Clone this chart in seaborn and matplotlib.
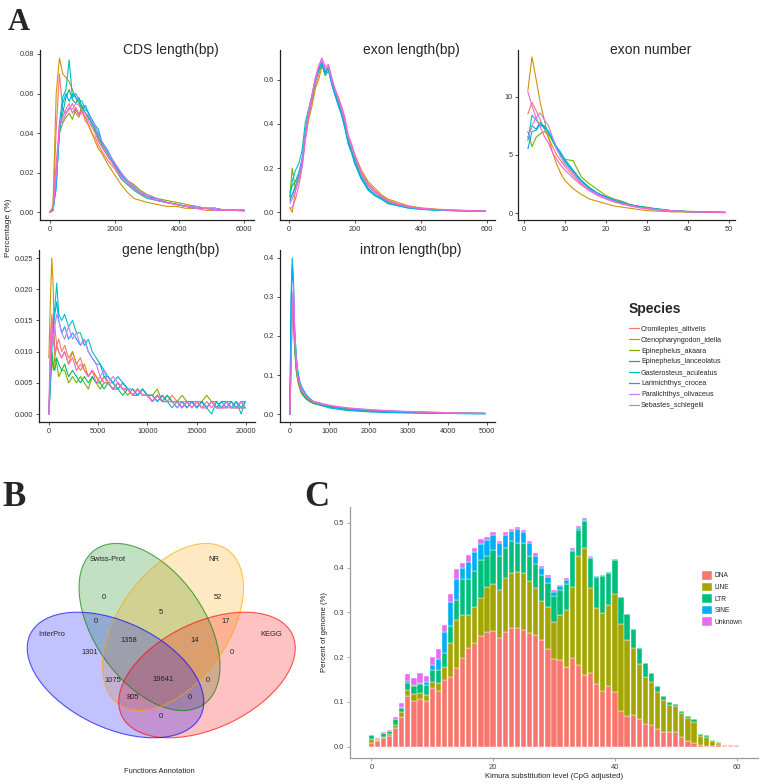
import matplotlib
matplotlib.use("Agg")
import numpy as np
import pandas as pd
import matplotlib.pyplot as plt
import seaborn as sns
from matplotlib.patches import Ellipse, Patch
from matplotlib.lines import Line2D

# ---------------- data ----------------
species = ["Cromileptes_altivelis", "Ctenopharyngodon_idella", "Epinephelus_akaara",
           "Epinephelus_lanceolatus", "Gasterosteus_aculeatus", "Larimichthys_crocea",
           "Paralichthys_olivaceus", "Sebastes_schlegelii"]
species_colors = ["#F8766D", "#CD9600", "#7CAE00", "#00BE67", "#00BFC4", "#00A9FF", "#C77CFF", "#FF61CC"]

cds_x = [0, 100, 200, 300, 400, 500, 600, 700, 800, 900, 1000, 1100, 1200, 1300, 1400, 1500, 1600,
         1800, 2000, 2200, 2400, 2600, 2800, 3000, 3300, 3600, 3900, 4200, 4500, 4800, 5100, 5400, 5700, 6000]
cds_pct = {
    "Cromileptes_altivelis":   [0, 0.002, 0.042, 0.070, 0.052, 0.050, 0.052, 0.055, 0.050, 0.048, 0.052, 0.046, 0.044, 0.040, 0.038, 0.034, 0.031, 0.026, 0.022, 0.017, 0.014, 0.012, 0.009, 0.008, 0.006, 0.005, 0.004, 0.003, 0.002, 0.002, 0.002, 0.001, 0.001, 0.001],
    "Ctenopharyngodon_idella": [0, 0.003, 0.060, 0.078, 0.070, 0.068, 0.066, 0.062, 0.058, 0.055, 0.050, 0.048, 0.044, 0.040, 0.036, 0.032, 0.030, 0.024, 0.019, 0.014, 0.010, 0.007, 0.006, 0.005, 0.004, 0.003, 0.003, 0.002, 0.002, 0.001, 0.001, 0.001, 0.001, 0.0005],
    "Epinephelus_akaara":      [0, 0.001, 0.020, 0.040, 0.045, 0.048, 0.050, 0.047, 0.052, 0.049, 0.054, 0.050, 0.047, 0.046, 0.042, 0.037, 0.034, 0.028, 0.024, 0.019, 0.016, 0.014, 0.011, 0.009, 0.007, 0.006, 0.005, 0.004, 0.003, 0.002, 0.002, 0.001, 0.001, 0.001],
    "Epinephelus_lanceolatus": [0, 0.001, 0.015, 0.042, 0.050, 0.058, 0.062, 0.057, 0.055, 0.058, 0.053, 0.050, 0.048, 0.045, 0.041, 0.038, 0.035, 0.030, 0.025, 0.020, 0.016, 0.013, 0.010, 0.008, 0.007, 0.005, 0.004, 0.003, 0.003, 0.002, 0.002, 0.001, 0.001, 0.001],
    "Gasterosteus_aculeatus":  [0, 0.001, 0.012, 0.045, 0.058, 0.062, 0.077, 0.058, 0.060, 0.057, 0.056, 0.052, 0.050, 0.044, 0.043, 0.040, 0.036, 0.029, 0.024, 0.017, 0.014, 0.011, 0.009, 0.007, 0.006, 0.005, 0.004, 0.003, 0.002, 0.002, 0.001, 0.001, 0.001, 0.001],
    "Larimichthys_crocea":     [0, 0.001, 0.014, 0.040, 0.055, 0.060, 0.056, 0.060, 0.058, 0.056, 0.052, 0.054, 0.050, 0.047, 0.044, 0.042, 0.036, 0.031, 0.024, 0.019, 0.015, 0.012, 0.010, 0.008, 0.006, 0.005, 0.004, 0.003, 0.002, 0.002, 0.002, 0.001, 0.001, 0.001],
    "Paralichthys_olivaceus":  [0, 0.001, 0.018, 0.044, 0.046, 0.050, 0.053, 0.052, 0.055, 0.054, 0.052, 0.050, 0.049, 0.046, 0.043, 0.039, 0.036, 0.030, 0.025, 0.020, 0.016, 0.013, 0.010, 0.009, 0.007, 0.005, 0.004, 0.003, 0.003, 0.002, 0.002, 0.001, 0.001, 0.001],
    "Sebastes_schlegelii":     [0, 0.001, 0.025, 0.044, 0.048, 0.052, 0.055, 0.050, 0.053, 0.050, 0.051, 0.048, 0.046, 0.043, 0.040, 0.036, 0.033, 0.028, 0.023, 0.018, 0.015, 0.012, 0.010, 0.008, 0.006, 0.005, 0.004, 0.003, 0.002, 0.002, 0.001, 0.001, 0.001, 0.001],
}

exon_len_x = [3, 10, 20, 30, 40, 50, 60, 70, 80, 90, 100, 110, 120, 130, 140, 150, 160, 170, 180, 190, 200,
              220, 240, 260, 280, 300, 330, 360, 400, 450, 500, 550, 595]
exon_len_pct = {
    "Cromileptes_altivelis":   [0.06, 0.08, 0.11, 0.15, 0.22, 0.34, 0.44, 0.50, 0.57, 0.62, 0.67, 0.65, 0.66, 0.59, 0.55, 0.51, 0.46, 0.42, 0.33, 0.30, 0.25, 0.18, 0.13, 0.10, 0.075, 0.055, 0.038, 0.027, 0.018, 0.012, 0.009, 0.007, 0.006],
    "Ctenopharyngodon_idella": [0.02, 0.00, 0.10, 0.15, 0.21, 0.33, 0.42, 0.48, 0.56, 0.60, 0.66, 0.64, 0.65, 0.60, 0.55, 0.52, 0.47, 0.41, 0.34, 0.30, 0.26, 0.19, 0.14, 0.11, 0.08, 0.06, 0.045, 0.03, 0.02, 0.014, 0.01, 0.008, 0.006],
    "Epinephelus_akaara":      [0.07, 0.20, 0.10, 0.15, 0.23, 0.35, 0.44, 0.52, 0.60, 0.64, 0.67, 0.62, 0.66, 0.59, 0.54, 0.50, 0.45, 0.40, 0.32, 0.28, 0.24, 0.17, 0.12, 0.09, 0.07, 0.05, 0.035, 0.025, 0.016, 0.011, 0.008, 0.007, 0.006],
    "Epinephelus_lanceolatus": [0.09, 0.12, 0.14, 0.18, 0.24, 0.37, 0.46, 0.53, 0.60, 0.65, 0.68, 0.63, 0.66, 0.59, 0.54, 0.49, 0.45, 0.39, 0.32, 0.28, 0.23, 0.16, 0.11, 0.08, 0.065, 0.045, 0.032, 0.022, 0.015, 0.01, 0.008, 0.006, 0.005],
    "Gasterosteus_aculeatus":  [0.07, 0.14, 0.19, 0.22, 0.28, 0.41, 0.47, 0.53, 0.60, 0.64, 0.67, 0.62, 0.64, 0.58, 0.53, 0.48, 0.44, 0.38, 0.31, 0.27, 0.22, 0.15, 0.10, 0.075, 0.06, 0.04, 0.03, 0.02, 0.013, 0.009, 0.007, 0.006, 0.005],
    "Larimichthys_crocea":     [0.05, 0.08, 0.12, 0.17, 0.24, 0.36, 0.45, 0.52, 0.59, 0.65, 0.68, 0.64, 0.65, 0.58, 0.53, 0.49, 0.44, 0.38, 0.31, 0.27, 0.22, 0.15, 0.105, 0.08, 0.06, 0.04, 0.03, 0.02, 0.014, 0.01, 0.007, 0.006, 0.005],
    "Paralichthys_olivaceus":  [0.04, 0.06, 0.10, 0.16, 0.23, 0.36, 0.46, 0.53, 0.61, 0.66, 0.69, 0.65, 0.66, 0.60, 0.55, 0.51, 0.46, 0.41, 0.34, 0.30, 0.25, 0.17, 0.12, 0.09, 0.07, 0.05, 0.035, 0.025, 0.017, 0.012, 0.009, 0.007, 0.006],
    "Sebastes_schlegelii":     [0.02, 0.02, 0.06, 0.12, 0.20, 0.33, 0.44, 0.52, 0.60, 0.66, 0.70, 0.66, 0.67, 0.61, 0.56, 0.52, 0.48, 0.43, 0.35, 0.31, 0.26, 0.18, 0.13, 0.095, 0.072, 0.052, 0.037, 0.026, 0.018, 0.012, 0.009, 0.007, 0.006],
}

exon_num_x = [1, 2, 3, 4, 5, 6, 7, 8, 9, 10, 12, 14, 16, 18, 20, 22, 24, 26, 28, 30, 33, 36, 40, 45, 49]
exon_num_pct = {
    "Cromileptes_altivelis":   [8.5, 9.5, 8.8, 8.0, 7.2, 6.5, 5.7, 5.0, 4.5, 4.0, 3.2, 2.5, 2.0, 1.6, 1.3, 1.0, 0.8, 0.6, 0.5, 0.4, 0.25, 0.2, 0.12, 0.08, 0.05],
    "Ctenopharyngodon_idella": [10.5, 13.4, 11.5, 9.5, 8.0, 6.5, 5.2, 4.2, 3.4, 2.8, 2.1, 1.6, 1.2, 1.0, 0.8, 0.6, 0.5, 0.4, 0.3, 0.2, 0.15, 0.1, 0.08, 0.05, 0.03],
    "Epinephelus_akaara":      [7.0, 5.7, 6.5, 6.8, 7.0, 6.8, 6.2, 5.6, 5.0, 4.6, 4.5, 3.1, 2.5, 2.0, 1.5, 1.2, 1.0, 0.7, 0.6, 0.5, 0.3, 0.2, 0.15, 0.1, 0.05],
    "Epinephelus_lanceolatus": [6.5, 7.5, 7.2, 7.8, 7.4, 7.0, 6.2, 5.5, 5.0, 4.5, 3.6, 2.8, 2.2, 1.7, 1.4, 1.1, 0.9, 0.7, 0.55, 0.45, 0.3, 0.2, 0.12, 0.08, 0.05],
    "Gasterosteus_aculeatus":  [6.2, 8.4, 8.0, 7.5, 7.5, 7.0, 6.3, 5.6, 5.1, 4.4, 3.5, 2.7, 2.1, 1.6, 1.3, 1.0, 0.9, 0.7, 0.55, 0.45, 0.35, 0.2, 0.12, 0.08, 0.05],
    "Larimichthys_crocea":     [5.5, 7.0, 7.1, 7.6, 7.3, 7.0, 6.4, 5.7, 5.2, 4.6, 3.7, 2.8, 2.1, 1.7, 1.35, 1.1, 0.9, 0.7, 0.55, 0.4, 0.3, 0.2, 0.12, 0.08, 0.05],
    "Paralichthys_olivaceus":  [6.5, 7.5, 8.2, 8.6, 8.0, 7.5, 6.5, 5.5, 4.8, 4.2, 3.4, 2.6, 2.0, 1.6, 1.3, 1.0, 0.8, 0.65, 0.5, 0.4, 0.3, 0.2, 0.12, 0.08, 0.05],
    "Sebastes_schlegelii":     [10.4, 9.2, 8.2, 7.4, 6.6, 6.0, 5.2, 4.6, 4.1, 3.7, 3.0, 2.4, 1.9, 1.5, 1.2, 0.95, 0.75, 0.6, 0.45, 0.35, 0.25, 0.18, 0.1, 0.07, 0.04],
}

gene_len_x = [0, 150, 300, 450, 600, 800, 1000, 1300, 1600, 2000, 2400, 2800, 3200, 3600, 4000, 4400, 4800,
              5200, 5600, 6000, 6500, 7000, 7500, 8000, 8500, 9000, 9500, 10000, 10500, 11000, 11500, 12000,
              12500, 13000, 13500, 14000, 14500, 15000, 15500, 16000, 16500, 17000, 17500, 18000, 18500,
              19000, 19500, 19900]
gene_len_pct = {
    "Cromileptes_altivelis":   [0.000, 0.012, 0.016, 0.013, 0.014, 0.011, 0.012, 0.010, 0.011, 0.009, 0.010, 0.008, 0.009, 0.007, 0.006, 0.007, 0.006, 0.005, 0.006, 0.005, 0.004, 0.005, 0.004, 0.004, 0.003, 0.004, 0.003, 0.003, 0.002, 0.003, 0.002, 0.002, 0.003, 0.002, 0.002, 0.001, 0.002, 0.002, 0.001, 0.002, 0.001, 0.002, 0.001, 0.001, 0.002, 0.001, 0.001, 0.001],
    "Ctenopharyngodon_idella": [0.009, 0.018, 0.025, 0.020, 0.009, 0.011, 0.010, 0.009, 0.010, 0.008, 0.010, 0.008, 0.007, 0.008, 0.006, 0.007, 0.006, 0.005, 0.006, 0.005, 0.005, 0.004, 0.005, 0.004, 0.003, 0.004, 0.003, 0.003, 0.003, 0.002, 0.003, 0.002, 0.002, 0.002, 0.001, 0.002, 0.002, 0.001, 0.002, 0.001, 0.002, 0.001, 0.001, 0.002, 0.001, 0.001, 0.001, 0.001],
    "Epinephelus_akaara":      [0.000, 0.005, 0.009, 0.007, 0.009, 0.008, 0.006, 0.007, 0.007, 0.005, 0.006, 0.005, 0.006, 0.005, 0.004, 0.006, 0.005, 0.004, 0.005, 0.005, 0.004, 0.005, 0.004, 0.003, 0.004, 0.003, 0.004, 0.003, 0.003, 0.004, 0.002, 0.003, 0.002, 0.002, 0.003, 0.002, 0.001, 0.002, 0.002, 0.003, 0.002, 0.002, 0.001, 0.002, 0.002, 0.001, 0.002, 0.002],
    "Epinephelus_lanceolatus": [0.000, 0.006, 0.010, 0.008, 0.007, 0.009, 0.008, 0.007, 0.008, 0.006, 0.007, 0.006, 0.005, 0.006, 0.005, 0.006, 0.005, 0.005, 0.004, 0.005, 0.004, 0.004, 0.003, 0.004, 0.003, 0.003, 0.004, 0.003, 0.002, 0.003, 0.002, 0.003, 0.002, 0.002, 0.001, 0.002, 0.002, 0.001, 0.002, 0.001, 0.002, 0.001, 0.002, 0.002, 0.001, 0.002, 0.001, 0.002],
    "Gasterosteus_aculeatus":  [0.000, 0.004, 0.010, 0.015, 0.017, 0.021, 0.016, 0.015, 0.016, 0.014, 0.015, 0.013, 0.013, 0.011, 0.012, 0.010, 0.009, 0.008, 0.006, 0.006, 0.005, 0.004, 0.005, 0.004, 0.003, 0.004, 0.003, 0.003, 0.002, 0.003, 0.002, 0.002, 0.001, 0.002, 0.001, 0.002, 0.002, 0.001, 0.002, 0.001, 0.000, 0.002, 0.001, 0.002, 0.001, 0.002, 0.000, 0.002],
    "Larimichthys_crocea":     [0.000, 0.006, 0.012, 0.014, 0.016, 0.018, 0.015, 0.013, 0.014, 0.012, 0.013, 0.012, 0.011, 0.012, 0.010, 0.009, 0.008, 0.008, 0.007, 0.006, 0.005, 0.006, 0.005, 0.004, 0.004, 0.003, 0.004, 0.003, 0.003, 0.002, 0.003, 0.002, 0.002, 0.001, 0.002, 0.001, 0.002, 0.001, 0.002, 0.001, 0.002, 0.001, 0.002, 0.001, 0.002, 0.001, 0.002, 0.001],
    "Paralichthys_olivaceus":  [0.000, 0.008, 0.013, 0.011, 0.014, 0.016, 0.015, 0.013, 0.012, 0.014, 0.012, 0.013, 0.011, 0.012, 0.010, 0.009, 0.008, 0.006, 0.007, 0.005, 0.006, 0.005, 0.004, 0.004, 0.003, 0.004, 0.003, 0.003, 0.002, 0.003, 0.002, 0.002, 0.002, 0.001, 0.002, 0.002, 0.001, 0.002, 0.001, 0.001, 0.002, 0.001, 0.001, 0.002, 0.001, 0.001, 0.002, 0.001],
    "Sebastes_schlegelii":     [0.000, 0.010, 0.015, 0.012, 0.010, 0.011, 0.010, 0.009, 0.010, 0.008, 0.009, 0.007, 0.008, 0.007, 0.006, 0.007, 0.005, 0.006, 0.005, 0.005, 0.004, 0.005, 0.004, 0.004, 0.003, 0.004, 0.003, 0.003, 0.002, 0.003, 0.002, 0.002, 0.002, 0.002, 0.001, 0.002, 0.001, 0.002, 0.001, 0.001, 0.002, 0.001, 0.001, 0.001, 0.001, 0.001, 0.001, 0.001],
}

intron_len_x = [0, 30, 60, 90, 120, 160, 200, 250, 300, 400, 500, 600, 800, 1000, 1250, 1500, 2000, 2500,
                3000, 3500, 4000, 4500, 4950]
intron_len_pct = {
    "Cromileptes_altivelis":   [0, 0.20, 0.30, 0.26, 0.17, 0.12, 0.09, 0.070, 0.058, 0.043, 0.035, 0.030, 0.024, 0.020, 0.016, 0.013, 0.009, 0.007, 0.005, 0.004, 0.003, 0.002, 0.002],
    "Ctenopharyngodon_idella": [0, 0.18, 0.31, 0.27, 0.18, 0.12, 0.09, 0.072, 0.060, 0.045, 0.036, 0.030, 0.025, 0.021, 0.017, 0.014, 0.010, 0.007, 0.005, 0.004, 0.003, 0.002, 0.002],
    "Epinephelus_akaara":      [0, 0.15, 0.26, 0.28, 0.17, 0.11, 0.085, 0.065, 0.052, 0.040, 0.032, 0.027, 0.022, 0.019, 0.016, 0.014, 0.011, 0.008, 0.006, 0.005, 0.004, 0.003, 0.002],
    "Epinephelus_lanceolatus": [0, 0.17, 0.29, 0.27, 0.18, 0.12, 0.09, 0.068, 0.055, 0.041, 0.033, 0.028, 0.023, 0.020, 0.016, 0.013, 0.010, 0.008, 0.006, 0.004, 0.003, 0.002, 0.002],
    "Gasterosteus_aculeatus":  [0, 0.30, 0.40, 0.35, 0.22, 0.15, 0.11, 0.085, 0.070, 0.052, 0.040, 0.032, 0.022, 0.016, 0.012, 0.009, 0.006, 0.004, 0.003, 0.002, 0.002, 0.001, 0.001],
    "Larimichthys_crocea":     [0, 0.28, 0.38, 0.33, 0.22, 0.15, 0.11, 0.082, 0.068, 0.050, 0.040, 0.033, 0.024, 0.018, 0.014, 0.011, 0.007, 0.005, 0.004, 0.003, 0.002, 0.002, 0.001],
    "Paralichthys_olivaceus":  [0, 0.10, 0.28, 0.33, 0.22, 0.14, 0.10, 0.080, 0.065, 0.048, 0.038, 0.033, 0.028, 0.023, 0.019, 0.016, 0.012, 0.009, 0.007, 0.005, 0.004, 0.003, 0.002],
    "Sebastes_schlegelii":     [0, 0.12, 0.27, 0.30, 0.20, 0.13, 0.095, 0.075, 0.060, 0.046, 0.037, 0.031, 0.026, 0.022, 0.018, 0.015, 0.011, 0.008, 0.006, 0.005, 0.003, 0.002, 0.002],
}

# Venn (functional annotation)
venn_sets = ["InterPro", "Swiss-Prot", "NR", "KEGG"]
venn_colors = ["#0000FF", "#008000", "#FFA500", "#FF0000"]
venn_counts = {  # region -> count
    "S": 0, "N": 52, "SN": 5, "IS": 0, "NK": 17, "ISN": 1358, "SNK": 14, "I": 1301,
    "K": 0, "IN": 1075, "ISNK": 19641, "SK": 0, "INK": 805, "ISK": 0, "IK": 0,
}

# Repeat landscape (Kimura divergence)
kimura = list(range(0, 61))
rep_types = ["DNA", "LINE", "LTR", "SINE", "Unknown"]
rep_colors = ["#F8766D", "#A3A500", "#00BF7D", "#00B0F6", "#E76BF3"]
dna_pct = [0.008, 0.012, 0.0185, 0.024, 0.041, 0.067, 0.113, 0.103, 0.106, 0.102, 0.130, 0.124, 0.149, 0.155,
           0.175, 0.199, 0.221, 0.232, 0.247, 0.256, 0.258, 0.243, 0.256, 0.265, 0.265, 0.261, 0.253, 0.249,
           0.239, 0.218, 0.196, 0.193, 0.179, 0.199, 0.182, 0.159, 0.164, 0.139, 0.125, 0.136, 0.123, 0.080,
           0.069, 0.070, 0.061, 0.050, 0.049, 0.040, 0.032, 0.032, 0.032, 0.021, 0.012, 0.007, 0.004, 0.002,
           0.002, 0.003, 0.001, 0.001, 0.001]
line_pct = [0.010, 0.002, 0.0037, 0.0044, 0.0074, 0.0096, 0.0126, 0.014, 0.014, 0.0133, 0.0148, 0.0185, 0.028,
            0.077, 0.107, 0.096, 0.072, 0.080, 0.086, 0.100, 0.106, 0.107, 0.120, 0.123, 0.126, 0.128, 0.116,
            0.105, 0.087, 0.094, 0.083, 0.101, 0.127, 0.157, 0.244, 0.285, 0.190, 0.170, 0.174, 0.180, 0.219,
            0.193, 0.170, 0.151, 0.124, 0.106, 0.096, 0.083, 0.073, 0.061, 0.058, 0.053, 0.053, 0.048, 0.019,
            0.019, 0.011, 0.005, 0.002, 0.002, 0.002]
ltr_pct = [0.008, 0.003, 0.0074, 0.0074, 0.0133, 0.0096, 0.017, 0.0185, 0.0207, 0.0215, 0.026, 0.028, 0.032,
           0.037, 0.046, 0.080, 0.081, 0.081, 0.083, 0.070, 0.076, 0.075, 0.067, 0.072, 0.065, 0.067, 0.058,
           0.053, 0.058, 0.053, 0.058, 0.056, 0.058, 0.081, 0.058, 0.061, 0.067, 0.070, 0.082, 0.073, 0.076,
           0.061, 0.058, 0.041, 0.035, 0.030, 0.019, 0.013, 0.007, 0.007, 0.006, 0.006, 0.004, 0.007, 0.005,
           0.004, 0.002, 0.002, 0.0, 0.0, 0.0]
sine_pct = [0.0, 0.0, 0.0, 0.0, 0.0, 0.0015, 0.0037, 0.0015, 0.0015, 0.0067, 0.011, 0.0244, 0.0467, 0.054,
            0.047, 0.025, 0.039, 0.041, 0.037, 0.036, 0.033, 0.030, 0.030, 0.021, 0.031, 0.024, 0.028, 0.020,
            0.015, 0.015, 0.009, 0.008, 0.009, 0.002, 0.004, 0.002, 0.002, 0.002, 0.002, 0.001, 0.001, 0.0,
            0.0, 0.0, 0.0, 0.0, 0.0, 0.0, 0.0, 0.0, 0.0, 0.0, 0.0, 0.0, 0.0, 0.0, 0.0, 0.0, 0.0, 0.0, 0.0]
unknown_pct = [0.0, 0.002, 0.002, 0.002, 0.0037, 0.0104, 0.017, 0.017, 0.0215, 0.0148, 0.0185, 0.0237, 0.017,
               0.017, 0.021, 0.011, 0.015, 0.010, 0.011, 0.007, 0.007, 0.005, 0.007, 0.005, 0.004, 0.005, 0.004,
               0.005, 0.004, 0.004, 0.004, 0.004, 0.004, 0.004, 0.004, 0.003, 0.002, 0.0, 0.0, 0.0, 0.0, 0.0,
               0.0, 0.0, 0.0, 0.0, 0.0, 0.0, 0.0, 0.0, 0.0, 0.0, 0.0, 0.0, 0.0, 0.0, 0.0, 0.0, 0.0, 0.0, 0.0]

# ---------------- style ----------------
sns.set_style("white")
plt.rcParams["font.family"] = ["Liberation Sans", "DejaVu Sans"]

W, H = 760, 784
fig = plt.figure(figsize=(W / 100, H / 100), dpi=100)


def px_axes(left, top, right, bottom):
    return fig.add_axes([left / W, 1 - bottom / H, (right - left) / W, (bottom - top) / H])


def long_df(x, d):
    rows = [(sp, xi, yi) for sp in species for xi, yi in zip(x, d[sp])]
    return pd.DataFrame(rows, columns=["Species", "x", "y"])


def line_panel(box, x, d, title, xlim, ylim, xticks, yticks, yfmt):
    ax = px_axes(*box)
    sns.lineplot(data=long_df(x, d), x="x", y="y", hue="Species", hue_order=species,
                 palette=species_colors, estimator=None, errorbar=None, linewidth=0.8,
                 legend=False, ax=ax)
    ax.set_xlim(xlim)
    ax.set_ylim(ylim)
    ax.set_xticks(xticks)
    ax.set_yticks(yticks)
    ax.set_yticklabels([yfmt.format(v) for v in yticks])
    ax.set_xlabel("")
    ax.set_ylabel("")
    for s in ["top", "right"]:
        ax.spines[s].set_visible(False)
    for s in ["left", "bottom"]:
        ax.spines[s].set_color("#222222")
        ax.spines[s].set_linewidth(0.9)
    ax.tick_params(length=2.5, width=0.6, labelsize=5.3, colors="#333333", pad=1.5,
                   bottom=True, left=True)
    ax.text(0.61, 1.0, title, transform=ax.transAxes, ha="center", va="center", fontsize=10)
    return ax


line_panel((40, 50, 254, 220), cds_x, cds_pct, "CDS length(bp)", (-300, 6300), (-0.0039, 0.082),
           [0, 2000, 4000, 6000], [0, 0.02, 0.04, 0.06, 0.08], "{:.2f}")
line_panel((280, 50, 495, 220), exon_len_x, exon_len_pct, "exon length(bp)", (-27, 625), (-0.035, 0.735),
           [0, 200, 400, 600], [0, 0.2, 0.4, 0.6], "{:.1f}")
line_panel((518, 50, 735, 220), exon_num_x, exon_num_pct, "exon number", (-1.4, 51.4), (-0.6, 14.0),
           [0, 10, 20, 30, 40, 50], [0, 5, 10], "{:.0f}")
line_panel((39, 250, 255, 422), gene_len_x, gene_len_pct, "gene length(bp)", (-1000, 20900), (-0.00128, 0.0263),
           [0, 5000, 10000, 15000, 20000], [0, 0.005, 0.010, 0.015, 0.020, 0.025], "{:.3f}")
line_panel((280, 250, 495, 422), intron_len_x, intron_len_pct, "intron length(bp)", (-250, 5200), (-0.02, 0.42),
           [0, 1000, 2000, 3000, 4000, 5000], [0, 0.1, 0.2, 0.3, 0.4], "{:.1f}")

fig.text(9 / W, 1 - 228 / H, "Percentage (%)", rotation=90, ha="center", va="center", fontsize=6.0)

handles = [Line2D([], [], color=c, lw=0.9) for c in species_colors]
leg = fig.legend(handles, species, loc="upper left", bbox_to_anchor=(629 / W, 1 - 302 / H), frameon=False,
                 title="Species", title_fontproperties={"weight": "bold", "size": 10}, alignment="left",
                 fontsize=5.1, handlelength=1.4, handletextpad=0.3, labelspacing=0.55, borderpad=0,
                 borderaxespad=0)
leg._legend_box.sep = 7.0

# ---------------- Venn ----------------
axv = px_axes(0, 470, 330, 784)
axv.set_xlim(0, 330)
axv.set_ylim(784, 470)
axv.axis("off")
ell_geom = {
    "InterPro": ((115.5, 675), 189, 106, 25.5),
    "KEGG": ((207, 675), 189, 106, -25.5),
    "Swiss-Prot": ((149.5, 627), 189, 110, 55),
    "NR": ((173, 627), 189, 110, -55),
}
draw_order = ["Swiss-Prot", "NR", "KEGG", "InterPro"]
for name in draw_order:
    c = venn_colors[venn_sets.index(name)]
    (cx, cy), w, h, ang = ell_geom[name]
    axv.add_patch(Ellipse((cx, cy), w, h, angle=ang, facecolor=c, alpha=0.24, edgecolor="none"))
for name in draw_order:
    c = venn_colors[venn_sets.index(name)]
    (cx, cy), w, h, ang = ell_geom[name]
    axv.add_patch(Ellipse((cx, cy), w, h, angle=ang, facecolor="none", edgecolor=c, alpha=0.65, lw=0.8))

set_label_pos = {"Swiss-Prot": (108, 560), "NR": (214, 560), "InterPro": (52, 635), "KEGG": (271, 635)}
for name, (x, y) in set_label_pos.items():
    axv.text(x, y, name, ha="center", va="center", fontsize=5.4, color="#222222")
region_pos = {"S": (104, 598), "N": (218, 598), "SN": (161, 613), "IS": (96, 622), "NK": (226, 622),
              "ISN": (129, 641), "SNK": (195, 641), "I": (90, 653), "K": (232, 653), "IN": (113, 681),
              "ISNK": (163, 680), "SK": (208, 681), "INK": (133, 698), "ISK": (190, 698), "IK": (161, 717)}
for key, (x, y) in region_pos.items():
    axv.text(x, y, str(venn_counts[key]), ha="center", va="center", fontsize=5.4, color="#222222")
axv.text(159, 772, "Functions Annotation", ha="center", va="center", fontsize=5.4, color="#222222")

# ---------------- Repeat landscape ----------------
axc = px_axes(350, 507, 758, 758)
rep_values = [dna_pct, line_pct, ltr_pct, sine_pct, unknown_pct]
rows = [(t, k, v) for t, vals in zip(rep_types, rep_values) for k, v in zip(kimura, vals)]
rep_df = pd.DataFrame(rows, columns=["type", "kimura", "pct"])
sns.histplot(data=rep_df, x="kimura", weights="pct", hue="type", hue_order=rep_types[::-1],
             palette=rep_colors[::-1], multiple="stack", discrete=True, shrink=0.86, alpha=1,
             edgecolor="white", linewidth=0.3, legend=False, ax=axc)
axc.set_xlim(-3.5, 63.5)
axc.set_ylim(-0.0255, 0.5355)
axc.set_xticks([0, 20, 40, 60])
axc.set_yticks([0, 0.1, 0.2, 0.3, 0.4, 0.5])
axc.set_yticklabels(["0.0", "0.1", "0.2", "0.3", "0.4", "0.5"])
axc.set_xlabel("Kimura substitution level (CpG adjusted)", fontsize=5.5, labelpad=2, color="#222222")
axc.set_ylabel("Percent of genome (%)", fontsize=5.6, labelpad=4, color="#222222")
for s in ["top", "right"]:
    axc.spines[s].set_visible(False)
for s in ["left", "bottom"]:
    axc.spines[s].set_color("#9A9A9A")
    axc.spines[s].set_linewidth(0.9)
axc.tick_params(length=2.5, width=0.6, labelsize=5.5, colors="#444444", pad=1.5, bottom=True, left=True)
axc.tick_params(axis="both", color="#9A9A9A")
rep_handles = [Patch(facecolor=c, edgecolor="white", lw=0.3) for c in rep_colors]
fig.legend(rep_handles, rep_types, loc="upper left", bbox_to_anchor=(702 / W, 1 - 571 / H), frameon=False,
           fontsize=4.8, handlelength=1.5, handleheight=1.6, handletextpad=0.4, labelspacing=0.45,
           borderpad=0, borderaxespad=0)

# ---------------- panel letters ----------------
for letter, (x, y, size) in {"A": (19, 22, 22), "B": (14, 498, 25), "C": (317, 498, 25)}.items():
    fig.text(x / W, 1 - y / H, letter, ha="center", va="center", fontsize=size, fontweight="bold",
             family=["Liberation Serif", "DejaVu Serif"])

fig.savefig("out.png", dpi=100)
